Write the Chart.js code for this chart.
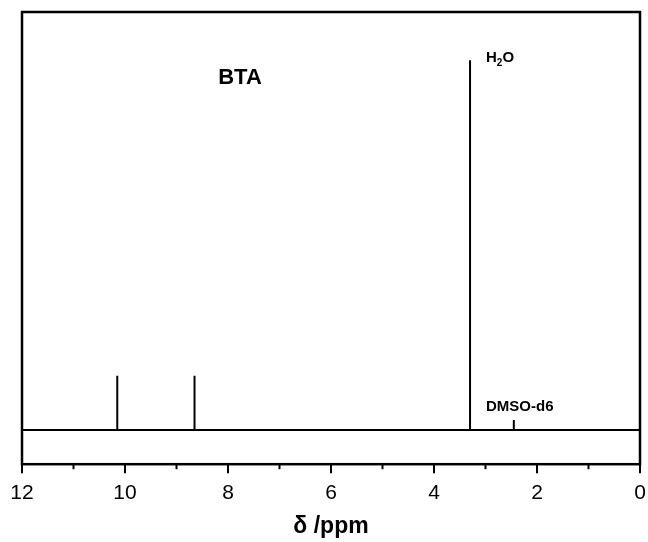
<!DOCTYPE html>
<html>
<head>
<meta charset="utf-8">
<script src="https://cdn.jsdelivr.net/npm/chart.js@4/dist/chart.umd.min.js"></script>
<style>
  html, body { margin: 0; padding: 0; background: #fff; }
  #wrap { width: 648px; height: 542px; }
</style>
</head>
<body>
<div id="wrap"><canvas id="nmr" width="648" height="542"></canvas></div>
<script>
// stick spectrum: peak positions (ppm) and heights (arb. units)
const peakPpm = [10.15, 8.65, 3.30, 2.45];
const peakHeight = [15.9, 15.9, 108.2, 2.9];
const xTicks = [12, 10, 8, 6, 4, 2, 0];
const labels = [
  { text: "BTA", ppm: 8.19, y: 102.9, size: 22 },
  { text: "H2O", ppm: 2.99, y: 108.8, size: 15 },
  { text: "DMSO-d6", ppm: 2.99, y: 6.8, size: 15 }
];

// baseline runs across the whole range, each peak is a vertical stick
const spectrum = [{ x: 12, y: 0 }];
peakPpm.forEach((p, i) => {
  spectrum.push({ x: p, y: 0 }, { x: p, y: peakHeight[i] }, { x: p, y: 0 });
});
spectrum.push({ x: 0, y: 0 });
spectrum.sort((a, b) => b.x - a.x);

const frameAndText = {
  id: "frameAndText",
  afterDraw(chart) {
    const { ctx, chartArea: a, scales } = chart;
    const xs = scales.x, ys = scales.y;
    ctx.save();
    ctx.strokeStyle = "#000";
    ctx.lineWidth = 2.5;
    ctx.strokeRect(a.left, a.top, a.right - a.left, a.bottom - a.top);
    // major and minor ticks
    ctx.lineWidth = 2;
    for (let v = 0; v <= 12; v++) {
      const px = xs.getPixelForValue(v);
      const len = v % 2 === 0 ? 9 : 5;
      ctx.beginPath();
      ctx.moveTo(px, a.bottom);
      ctx.lineTo(px, a.bottom + len);
      ctx.stroke();
    }
    ctx.fillStyle = "#000";
    ctx.textBaseline = "middle";
    ctx.textAlign = "left";
    labels.forEach((l) => {
      const px = xs.getPixelForValue(l.ppm);
      const py = ys.getPixelForValue(l.y);
      ctx.font = "bold " + l.size + "px 'Liberation Sans', Arial, sans-serif";
      if (l.text === "H2O") {
        ctx.fillText("H", px, py);
        let w = ctx.measureText("H").width;
        ctx.font = "bold 10px 'Liberation Sans', Arial, sans-serif";
        ctx.fillText("2", px + w, py + 5);
        w += ctx.measureText("2").width;
        ctx.font = "bold " + l.size + "px 'Liberation Sans', Arial, sans-serif";
        ctx.fillText("O", px + w, py);
      } else {
        ctx.fillText(l.text, px, py);
      }
    });
    ctx.restore();
  }
};

new Chart(document.getElementById("nmr"), {
  type: "line",
  data: {
    datasets: [{
      data: spectrum,
      borderColor: "#000",
      borderWidth: 2,
      pointRadius: 0,
      tension: 0,
      fill: false
    }]
  },
  options: {
    responsive: false,
    animation: false,
    layout: { padding: { left: 22, right: 8, top: 12, bottom: 2 } },
    plugins: { legend: { display: false }, tooltip: { enabled: false } },
    scales: {
      x: {
        type: "linear",
        reverse: true,
        min: 0,
        max: 12,
        afterBuildTicks: (s) => { s.ticks = xTicks.map((v) => ({ value: v })); },
        afterFit: (s) => { s.paddingLeft = 0; s.paddingRight = 0; },
        grid: { display: false, drawTicks: true, tickLength: 9 },
        border: { display: false },
        ticks: {
          color: "#000",
          padding: 7,
          maxRotation: 0,
          font: { size: 21, family: "'Liberation Sans', Arial, sans-serif" }
        },
        title: {
          display: true,
          text: "δ /ppm",
          color: "#000",
          padding: { top: 0, bottom: 0 },
          font: { size: 23, weight: "bold", family: "'Liberation Sans', Arial, sans-serif" }
        }
      },
      y: {
        display: false,
        min: -10,
        max: 122.3
      }
    }
  },
  plugins: [frameAndText]
});
</script>
</body>
</html>
